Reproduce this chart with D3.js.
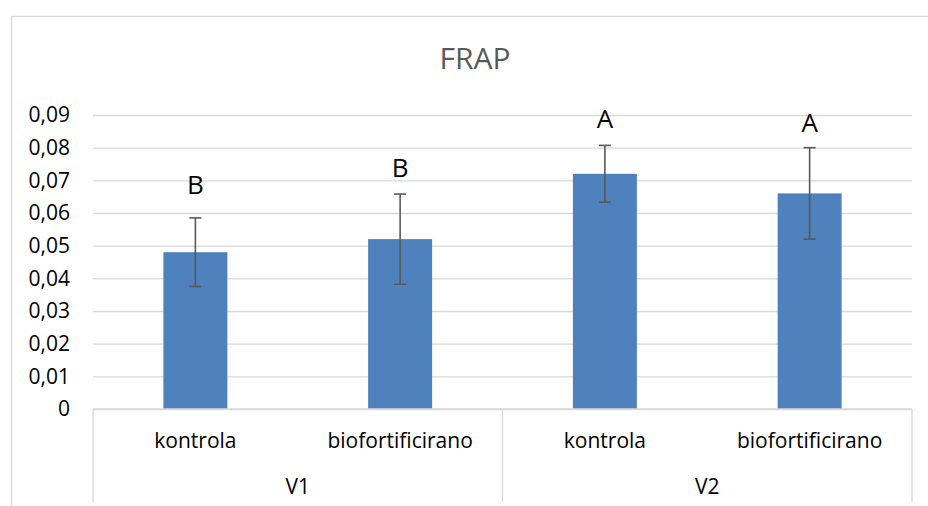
<!DOCTYPE html>
<html>
<head>
<meta charset="utf-8">
<script src="https://cdn.jsdelivr.net/npm/d3@7"></script>
<style>
  html, body { margin: 0; padding: 0; background: #fff; }
  svg { display: block; font-family: "Open Sans", sans-serif; }
</style>
</head>
<body>
<svg id="chart" width="928" height="506"></svg>
<script>
const title = "FRAP";
const categories = ["kontrola", "biofortificirano", "kontrola", "biofortificirano"];
const groups = ["V1", "V2"];
const groupOf = [0, 0, 1, 1];
const values = [0.048, 0.052, 0.072, 0.066];
const errors = [0.0105, 0.0138, 0.0087, 0.014];
const letters = ["B", "B", "A", "A"];
const letterLevels = [0.0658, 0.071, 0.086, 0.0848];
const yTicks = [0, 0.01, 0.02, 0.03, 0.04, 0.05, 0.06, 0.07, 0.08, 0.09];
const yTickLabels = ["0", "0,01", "0,02", "0,03", "0,04", "0,05", "0,06", "0,07", "0,08", "0,09"];

(function () {
const svg = d3.select("#chart");
const pLeft = 93, pRight = 912, pTop = 115, pBottom = 409;
const gridColor = "#d9d9d9";

// outer chart border
svg.append("rect").attr("x", 11.5).attr("y", 16.5).attr("width", 940).attr("height", 520)
  .attr("fill", "none").attr("stroke", gridColor).attr("stroke-width", 1.3);

const y = d3.scaleLinear().domain([0, 0.09]).range([pBottom, pTop]);
const x = d3.scaleBand().domain(d3.range(categories.length)).range([pLeft, pRight])
  .paddingInner(0.6875).paddingOuter(0.34375);

// title
svg.append("text").attr("x", 475).attr("y", 69).attr("text-anchor", "middle")
  .attr("font-size", 30).attr("fill", "#595959").text(title);

// gridlines + tick labels
const yAxis = d3.axisLeft(y).tickValues(yTicks).tickSize(-(pRight - pLeft))
  .tickFormat((d, i) => yTickLabels[i]).tickPadding(23);
const gAxis = svg.append("g").attr("transform", `translate(${pLeft},0)`).call(yAxis);
gAxis.select(".domain").remove();
gAxis.selectAll(".tick line").attr("stroke", gridColor).attr("stroke-width", 1.3);
gAxis.selectAll(".tick text").attr("font-size", 21).attr("fill", "#000")
  .attr("font-family", "'Open Sans', sans-serif");

// bars
svg.append("g").selectAll("rect").data(values).join("rect")
  .attr("x", (d, i) => x(i))
  .attr("y", d => y(d))
  .attr("width", x.bandwidth())
  .attr("height", d => y(0) - y(d))
  .attr("fill", "#4f81bd");

// error bars
const eb = svg.append("g").attr("stroke", "#595959").attr("stroke-width", 1.6);
values.forEach((v, i) => {
  const cx = x(i) + x.bandwidth() / 2;
  const hi = y(v + errors[i]), lo = y(v - errors[i]);
  eb.append("line").attr("x1", cx).attr("x2", cx).attr("y1", hi).attr("y2", lo);
  eb.append("line").attr("x1", cx - 6).attr("x2", cx + 6).attr("y1", hi).attr("y2", hi);
  eb.append("line").attr("x1", cx - 6).attr("x2", cx + 6).attr("y1", lo).attr("y2", lo);
});

// significance letters
svg.append("g").selectAll("text").data(letters).join("text")
  .attr("x", (d, i) => x(i) + x.bandwidth() / 2)
  .attr("y", (d, i) => y(letterLevels[i]))
  .attr("text-anchor", "middle").attr("font-size", 26).attr("fill", "#000")
  .text(d => d);

// category axis
const ax = svg.append("g").attr("stroke", gridColor).attr("stroke-width", 1.3);
ax.append("line").attr("x1", pLeft).attr("x2", pRight).attr("y1", pBottom).attr("y2", pBottom);
const edges = [pLeft];
groups.forEach((g, gi) => {
  const idx = d3.range(categories.length).filter(i => groupOf[i] === gi);
  edges.push(pLeft + (idx[idx.length - 1] + 1) * (pRight - pLeft) / categories.length);
});
edges.forEach(e => {
  ax.append("line").attr("x1", e).attr("x2", e).attr("y1", pBottom).attr("y2", 502);
});

svg.append("g").selectAll("text").data(categories).join("text")
  .attr("x", (d, i) => x(i) + x.bandwidth() / 2)
  .attr("y", 448).attr("text-anchor", "middle").attr("font-size", 21).attr("fill", "#000")
  .text(d => d);

svg.append("g").selectAll("text").data(groups).join("text")
  .attr("x", (d, i) => (edges[i] + edges[i + 1]) / 2)
  .attr("y", 494).attr("text-anchor", "middle").attr("font-size", 21).attr("fill", "#000")
  .text(d => d);
})();
</script>
</body>
</html>
